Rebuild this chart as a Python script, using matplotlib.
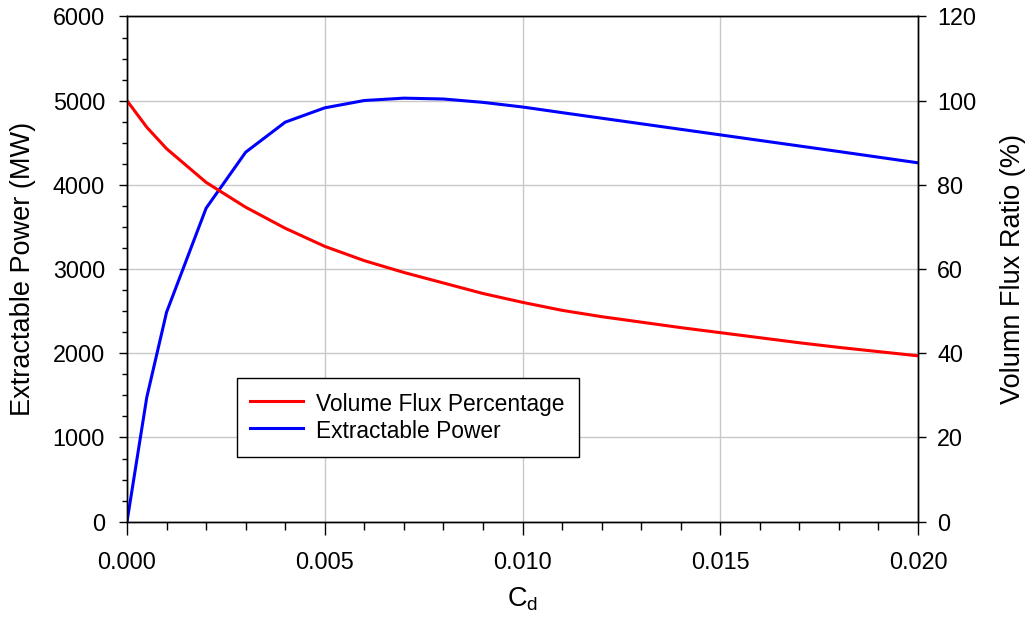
import numpy as np
import matplotlib
matplotlib.use('Agg')
from matplotlib import pyplot as plt
from matplotlib.ticker import MultipleLocator, FormatStrFormatter

plt.rcParams['font.family'] = ['Liberation Sans', 'DejaVu Sans']
plt.rcParams['mathtext.fontset'] = 'custom'
plt.rcParams['mathtext.rm'] = 'Liberation Sans'

# drag coefficient values
cd = [0.0, 0.0005, 0.001, 0.002, 0.003, 0.004, 0.005, 0.006, 0.007, 0.008, 0.009,
      0.010, 0.011, 0.012, 0.013, 0.014, 0.015, 0.016, 0.017, 0.018, 0.019, 0.020]
# extractable power (MW), left axis
power = [0, 1477, 2487, 3723, 4388, 4745, 4915, 5002, 5030, 5020, 4980,
         4925, 4858, 4792, 4726, 4660, 4594, 4528, 4462, 4396, 4329, 4262]
# volume flux ratio (%), right axis
flux = [100, 93.7, 88.6, 80.6, 74.7, 69.7, 65.4, 62.0, 59.2, 56.7, 54.2,
        52.1, 50.2, 48.7, 47.4, 46.1, 44.9, 43.7, 42.5, 41.4, 40.4, 39.4]

fig = plt.figure(figsize=(10.30, 6.29), dpi=100)
ax = fig.add_axes([0.1233, 0.1706, 0.7680, 0.8032])
ax2 = ax.twinx()

l2, = ax.plot(cd, power, color='#0000ff', lw=2.2, label='Extractable Power')
l1, = ax2.plot(cd, flux, color='#ff0000', lw=2.2, label='Volume Flux Percentage')

ax.set_xlim(0, 0.02)
ax.set_ylim(0, 6000)
ax2.set_ylim(0, 120)

ax.xaxis.set_major_locator(MultipleLocator(0.005))
ax.xaxis.set_minor_locator(MultipleLocator(0.001))
ax.xaxis.set_major_formatter(FormatStrFormatter('%.3f'))
ax.yaxis.set_major_locator(MultipleLocator(1000))
ax.yaxis.set_minor_locator(MultipleLocator(250))
ax2.yaxis.set_major_locator(MultipleLocator(20))

ax.grid(True, which='major', color='#c8c8c8', lw=1.0)
ax.set_axisbelow(True)

ax.tick_params(axis='x', which='major', length=9.4, width=1.0, labelsize=16.8, pad=12)
ax.tick_params(axis='x', which='minor', length=5.8, width=1.0)
ax.tick_params(axis='y', which='major', length=5.8, width=1.0, labelsize=16.8, pad=10)
ax.tick_params(axis='y', which='minor', length=3.6, width=1.0)
ax2.tick_params(axis='y', which='major', length=5.8, width=1.0, labelsize=16.8, pad=8)

for a in (ax, ax2):
    for s in a.spines.values():
        s.set_linewidth(1.0)
        s.set_color('black')

ax.set_xlabel(r'C$_\mathrm{d}$', fontsize=19.5, labelpad=8)
ax.set_ylabel('Extractable Power (MW)', fontsize=19.5, labelpad=12)
ax2.set_ylabel('Volumn Flux Ratio (%)', fontsize=19.5, labelpad=17)

leg = ax2.legend([l1, l2], ['Volume Flux Percentage', 'Extractable Power'],
                 loc='lower left', bbox_to_anchor=(0.1387, 0.1287), borderaxespad=0,
                 fontsize=16.4, frameon=True, fancybox=False, framealpha=1,
                 edgecolor='black', handlelength=2.33, handletextpad=0.57,
                 handleheight=1.32, labelspacing=0.06, borderpad=0.6)
leg.get_frame().set_linewidth(1.0)

fig.savefig('out.png', dpi=100)
